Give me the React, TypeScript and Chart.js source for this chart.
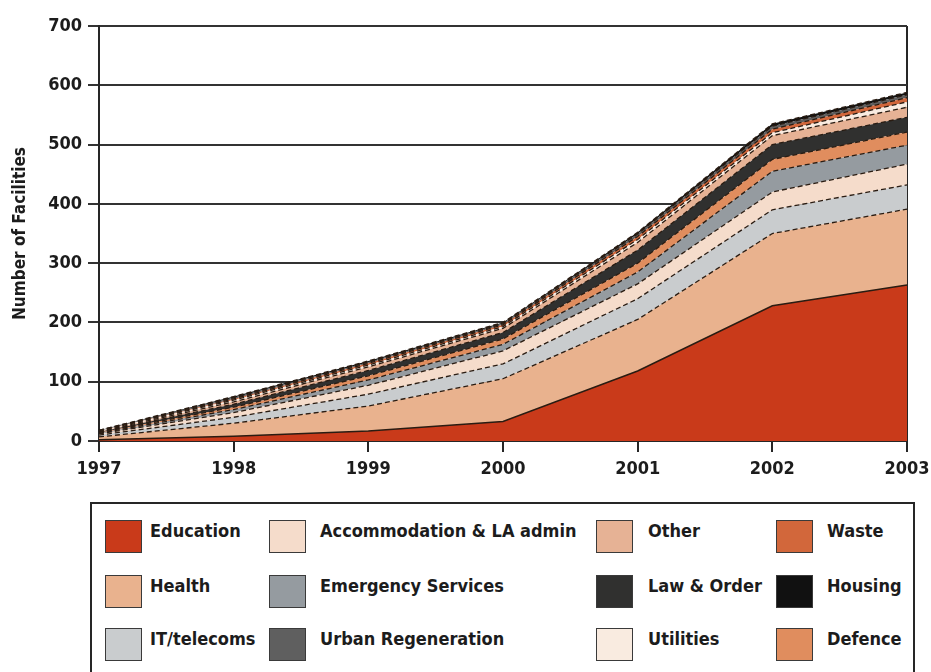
import React, { useEffect, useRef } from "react";
import { Chart, registerables } from "chart.js";

Chart.register(...registerables);

// ---------- data ----------
const years = ["1997", "1998", "1999", "2000", "2001", "2002", "2003"];
const yTickValues = [0, 100, 200, 300, 400, 500, 600, 700];

const education = [2, 8, 17, 33, 118, 228, 263];
const health = [5, 22, 42, 72, 87, 122, 128];
const itTelecoms = [3, 10, 20, 25, 35, 40, 41];
const accommodation = [2, 8, 15, 22, 25, 30, 35];
const emergency = [1, 5, 9, 11, 20, 35, 32];
const defence = [1, 4, 7, 9, 15, 20, 22];
const lawOrder = [1, 5, 9, 11, 22, 25, 25];
const other = [1, 4, 6, 7, 13, 15, 17];
const utilities = [1, 3, 3, 3, 5, 5, 9];
const waste = [0, 2, 3, 3, 5, 6, 7];
const urbanRegen = [1, 2, 2, 2, 4, 5, 5];
const housing = [0, 2, 2, 2, 3, 4, 4];

// stacking order (bottom to top)
const seriesNames = [
  "Education",
  "Health",
  "IT/telecoms",
  "Accommodation & LA admin",
  "Emergency Services",
  "Defence",
  "Law & Order",
  "Other",
  "Utilities",
  "Waste",
  "Urban Regeneration",
  "Housing",
];
const seriesValues = [
  education,
  health,
  itTelecoms,
  accommodation,
  emergency,
  defence,
  lawOrder,
  other,
  utilities,
  waste,
  urbanRegen,
  housing,
];
const seriesColors = [
  "#c93a1a",
  "#e9b28e",
  "#c9ccce",
  "#f5dccb",
  "#959ba0",
  "#e08d5e",
  "#30302f",
  "#e6b295",
  "#f9ebe0",
  "#d2673b",
  "#5f5f5f",
  "#111111",
];

// legend layout (column-major, as in the reference)
const legendColumns = [
  ["Education", "Health", "IT/telecoms"],
  ["Accommodation & LA admin", "Emergency Services", "Urban Regeneration"],
  ["Other", "Law & Order", "Utilities"],
  ["Waste", "Housing", "Defence"],
];

const FONT =
  "'DejaVu Sans Condensed', 'Liberation Sans Narrow', 'DejaVu Sans', sans-serif";
const TEXT = "#1c1c1c";
const LINE = "#262626";

function colorOf(name: string) {
  return seriesColors[seriesNames.indexOf(name)];
}

function Legend() {
  const swatchX = [13, 177, 504, 684];
  const textX = [58, 228, 556, 735];
  const rowY = [16, 71, 124];
  return (
    <div
      style={{
        position: "absolute",
        left: 90,
        top: 502,
        width: 825,
        height: 200,
        border: `2px solid ${LINE}`,
        boxSizing: "border-box",
        background: "#fff",
      }}
    >
      {legendColumns.map((col, ci) =>
        col.map((name, ri) => (
          <React.Fragment key={name}>
            <div
              style={{
                position: "absolute",
                left: swatchX[ci],
                top: rowY[ri],
                width: 37,
                height: 33,
                background: colorOf(name),
                border: "1.5px solid #3a3a3a",
                boxSizing: "border-box",
              }}
            />
            <div
              style={{
                position: "absolute",
                left: textX[ci],
                top: rowY[ri],
                height: 33,
                lineHeight: "33px",
                font: `bold 18px ${FONT}`,
                color: TEXT,
                whiteSpace: "nowrap",
              }}
            >
              {name}
            </div>
          </React.Fragment>
        ))
      )}
    </div>
  );
}

export default function App() {
  const canvasRef = useRef<HTMLCanvasElement | null>(null);

  useEffect(() => {
    if (!canvasRef.current) return;
    const last = years.length - 1;
    const chart = new Chart(canvasRef.current, {
      type: "line",
      data: {
        labels: years,
        datasets: seriesNames.map((name, i) => ({
          label: name,
          data: seriesValues[i],
          backgroundColor: seriesColors[i],
          borderColor: "#2a1c12",
          borderWidth: i === 0 ? 1.5 : 1.3,
          borderDash: i === 0 ? [] : [5, 3],
          fill: i === 0 ? "origin" : "-1",
          pointRadius: 0,
          tension: 0,
        })),
      },
      options: {
        responsive: false,
        animation: false,
        layout: { padding: { top: 26, right: 24, left: 0, bottom: 0 } },
        plugins: {
          legend: { display: false },
          tooltip: { enabled: false },
        },
        scales: {
          x: {
            type: "category",
            offset: false,
            z: 1,
            afterFit: (s: any) => {
              s.height = 54;
              s.paddingRight = 0;
              s.paddingLeft = 0;
            },
            border: { display: true, color: LINE, width: 2 },
            grid: {
              color: (ctx: any) => (ctx.index === last ? LINE : "rgba(0,0,0,0)"),
              tickColor: LINE,
              lineWidth: 2,
              tickLength: 11,
            },
            ticks: {
              color: TEXT,
              font: { family: FONT, size: 18, weight: "bold" },
              padding: 7,
              maxRotation: 0,
            },
          },
          y: {
            stacked: true,
            min: 0,
            max: 700,
            afterFit: (s: any) => {
              s.width = 99;
            },
            afterBuildTicks: (s: any) => {
              s.ticks = yTickValues.map((v) => ({ value: v }));
            },
            border: { display: true, color: LINE, width: 2 },
            grid: {
              color: "#333333",
              lineWidth: 2,
              tickLength: 11,
            },
            ticks: {
              color: TEXT,
              font: { family: FONT, size: 18, weight: "bold" },
              padding: 6,
            },
            title: {
              display: true,
              text: "Number of Facilities",
              color: TEXT,
              font: { family: FONT, size: 17, weight: "bold" },
              padding: { top: 10, bottom: 0 },
            },
          },
        },
      },
    });
    return () => chart.destroy();
  }, []);

  return (
    <div
      style={{
        position: "absolute",
        left: 0,
        top: 0,
        width: 931,
        height: 672,
        overflow: "hidden",
        background: "#fff",
      }}
    >
      <canvas
        ref={canvasRef}
        width={931}
        height={495}
        style={{ position: "absolute", left: 0, top: 0, width: 931, height: 495 }}
      />
      <Legend />
    </div>
  );
}
